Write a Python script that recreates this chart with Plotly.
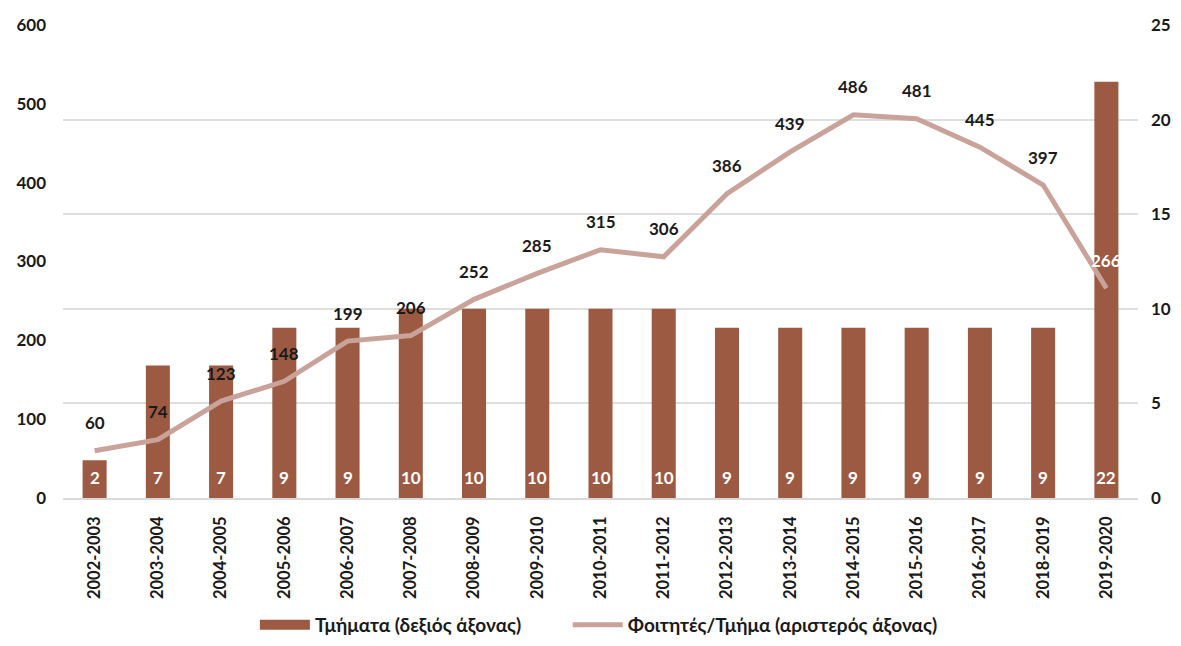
import plotly.graph_objects as go

years = ["2002-2003", "2003-2004", "2004-2005", "2005-2006", "2006-2007", "2007-2008",
         "2008-2009", "2009-2010", "2010-2011", "2011-2012", "2012-2013", "2013-2014",
         "2014-2015", "2015-2016", "2016-2017", "2018-2019", "2019-2020"]
departments = [2, 7, 7, 9, 9, 10, 10, 10, 10, 10, 9, 9, 9, 9, 9, 9, 22]
students_per_dept = [60, 74, 123, 148, 199, 206, 252, 285, 315, 306, 386, 439, 486, 481, 445, 397, 266]

FONT = "Lato"
BAR_COLOR = "#9C5A43"
LINE_COLOR = "#C9A39A"
TEXT = "#1a1a1a"

fig = go.Figure()
fig.add_trace(go.Bar(
    x=years, y=departments, name="Τμήματα (δεξιός άξονας)",
    marker=dict(color=BAR_COLOR, line=dict(width=0)),
    width=0.38, yaxis="y", showlegend=False,
))
# legend proxy for the bars (wide rectangular swatch)
fig.add_trace(go.Scatter(
    x=[None], y=[None], name="Τμήματα (δεξιός άξονας)", mode="lines",
    line=dict(color=BAR_COLOR, width=12), yaxis="y", hoverinfo="skip", legend="legend",
))
fig.add_trace(go.Scatter(
    x=years, y=students_per_dept, name="Φοιτητές/Τμήμα (αριστερός άξονας)",
    mode="lines", line=dict(color=LINE_COLOR, width=5),
    yaxis="y2", cliponaxis=False, legend="legend2",
))

annotations = []
for i, (cat, v) in enumerate(zip(years, students_per_dept)):
    annotations.append(dict(
        x=cat, y=v, xref="x", yref="y2", text=str(v), showarrow=False,
        yshift=28, yanchor="middle",
        font=dict(size=17, family=FONT, weight="bold",
                  color="white" if i == len(years) - 1 else TEXT),
    ))
for cat, v in zip(years, departments):
    annotations.append(dict(
        x=cat, y=0, xref="x", yref="y", text=str(v), showarrow=False,
        yshift=21, yanchor="middle",
        font=dict(size=17, family=FONT, weight="bold", color="white"),
    ))

legend_font = dict(size=19, family=FONT, weight="bold", color=TEXT)

fig.update_layout(
    width=1165, height=630,
    margin=dict(l=55, r=35, t=17, b=140, autoexpand=False),
    plot_bgcolor="white", paper_bgcolor="white",
    font=dict(family=FONT, size=17, color=TEXT),
    annotations=annotations,
    xaxis=dict(tickangle=-90, tickfont=dict(size=16.5, family=FONT, weight="bold", color=TEXT),
               showline=True, linecolor="#d9d9d9", linewidth=1.5, ticks="",
               range=[-0.5, len(years) - 0.5], ticklabelstandoff=10, automargin=False),
    yaxis=dict(side="right", range=[0, 25], dtick=5, showgrid=True, gridcolor="#dedede",
               gridwidth=1.5, zeroline=False, automargin=False,
               tickfont=dict(size=17, family=FONT, weight="bold", color=TEXT),
               ticklabelstandoff=12),
    yaxis2=dict(side="left", overlaying="y", range=[0, 600], dtick=100, showgrid=False,
                zeroline=False, automargin=False,
                tickfont=dict(size=17, family=FONT, weight="bold", color=TEXT),
                ticklabelstandoff=16),
    legend=dict(orientation="h", x=0.1785, xanchor="left", y=-0.2685, yanchor="middle",
                font=legend_font, itemwidth=50),
    legend2=dict(orientation="h", x=0.4695, xanchor="left", y=-0.2685, yanchor="middle",
                 font=legend_font, itemwidth=50),
    showlegend=True,
)

fig.write_html("out.html")
